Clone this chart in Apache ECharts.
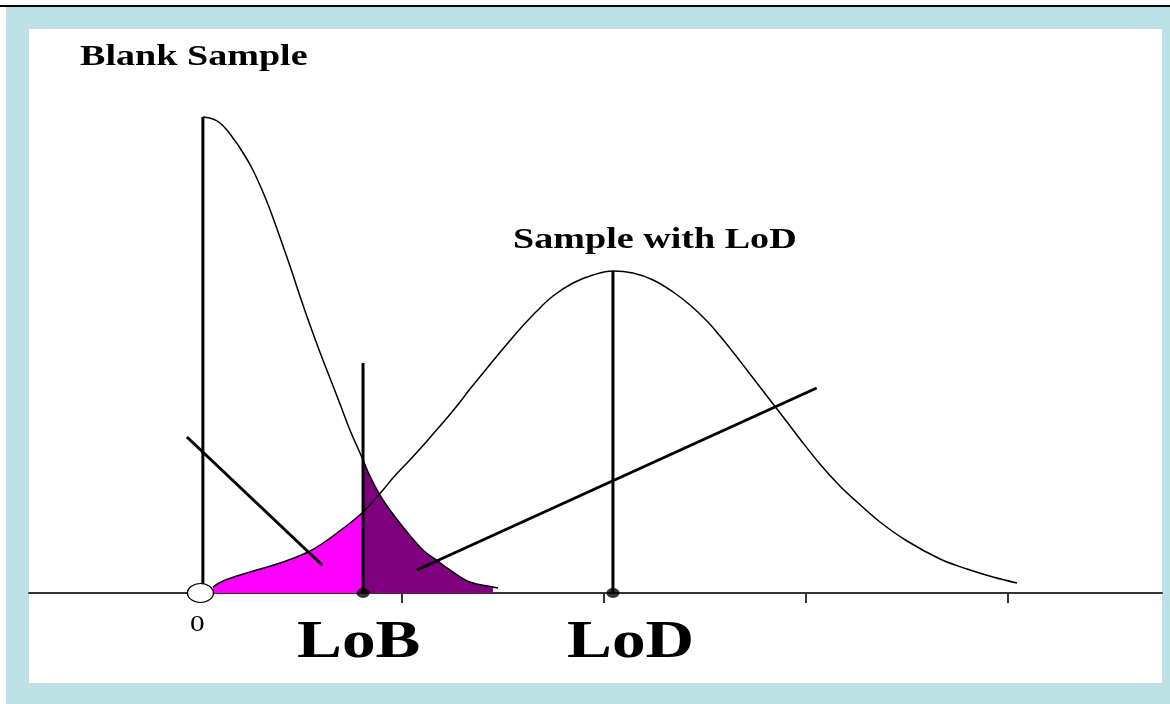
<!DOCTYPE html>
<html><head><meta charset="utf-8">
<script src="https://cdn.jsdelivr.net/npm/echarts@6/dist/echarts.min.js"></script>
<style>html,body{margin:0;padding:0;background:#fff}#c{width:1170px;height:704px}</style>
</head><body><div id="c"></div>
<script>
// Blank sample curve
const blankX = [0.012, 0.062, 0.097, 0.131, 0.161, 0.196, 0.255, 0.320, 0.369, 0.404, 0.444, 0.493, 0.543, 0.592, 0.642, 0.692, 0.741, 0.791, 0.806, 0.840, 0.905, 1.004, 1.103, 1.177, 1.237, 1.336, 1.450, 1.475];
const blankY = [4.76, 4.74, 4.70, 4.63, 4.55, 4.45, 4.25, 3.96, 3.70, 3.50, 3.27, 2.97, 2.68, 2.41, 2.15, 1.89, 1.63, 1.40, 1.33, 1.17, 0.93, 0.66, 0.43, 0.32, 0.23, 0.11, 0.06, 0.05];
// Sample with LoD curve
const lodX = [0.062, 0.112, 0.245, 0.394, 0.543, 0.677, 0.806, 0.905, 0.954, 1.024, 1.088, 1.153, 1.222, 1.287, 1.336, 1.401, 1.470, 1.520, 1.584, 1.668, 1.748, 1.847, 1.946, 2.045, 2.144, 2.244, 2.343, 2.427, 2.511, 2.576, 2.640, 2.709, 2.774, 2.839, 2.908, 2.972, 3.071, 3.170, 3.255, 3.369, 3.503, 3.667, 3.800, 3.929, 4.048];
const lodY = [0.06, 0.12, 0.21, 0.30, 0.42, 0.60, 0.81, 1.03, 1.15, 1.30, 1.44, 1.59, 1.75, 1.91, 2.04, 2.20, 2.37, 2.49, 2.64, 2.82, 2.97, 3.10, 3.18, 3.22, 3.20, 3.13, 3.01, 2.88, 2.72, 2.57, 2.41, 2.23, 2.06, 1.89, 1.71, 1.54, 1.29, 1.07, 0.91, 0.71, 0.52, 0.34, 0.24, 0.16, 0.10];
// Key positions (x in axis units)
const blankMean = 0.012, blankTop = 4.76;
const lobValue = 0.806, lobTop = 2.30;
const lodValue = 2.045, lodTop = 3.22;
const purpleEnd = 1.45;
// Pointer lines
const pointer1X = [-0.067, 0.603], pointer1Y = [1.56, 0.28];
const pointer2X = [1.073, 3.055], pointer2Y = [0.23, 2.05];
// Axis
const tickValues = [1, 2, 3, 4];
const tickLabels = ['0'];
const labelNames = ['Blank Sample', 'Sample with LoD', 'LoB', 'LoD'];

const zip = (xs, ys) => xs.map((x, i) => [x, ys[i]]);
const blankData = zip(blankX, blankY);
const lodData = zip(lodX, lodY);
const magentaData = lodData.filter(p => p[0] <= lobValue + 1e-9);
const purpleData = blankData.filter(p => p[0] >= lobValue - 1e-9 && p[0] <= purpleEnd + 1e-9);

const chart = echarts.init(document.getElementById('c'), null, {renderer: 'canvas'});
const black = '#000';
const lineSeries = (name, data, width, z, extra) => Object.assign({
  name, type: 'line', data, showSymbol: false, symbol: 'none', z,
  lineStyle: {color: black, width}, animation: false, silent: true
}, extra || {});
const smoothOpts = {smooth: 0.4};
const serif = '"Liberation Serif", "Times New Roman", serif';
const txt = (text, x, y, size, weight) => ({
  type: 'text', x, y, scaleX: 1.27, z: 10,
  style: {text, font: weight + ' ' + size + 'px ' + serif, fill: '#000', textAlign: 'left', textVerticalAlign: 'middle'}
});

chart.setOption({
  backgroundColor: '#fff',
  animation: false,
  grid: {left: 29, right: 8, top: 29, bottom: 111},
  xAxis: {
    type: 'value', min: -0.85, max: 4.767,
    axisLine: {show: true, onZero: false, lineStyle: {color: '#333', width: 2}},
    axisTick: {show: true, customValues: tickValues, length: 10, lineStyle: {color: '#333', width: 2}},
    axisLabel: {show: false}, splitLine: {show: false}
  },
  yAxis: {type: 'value', min: 0, max: 5.64, show: false, splitLine: {show: false}},
  graphic: {elements: [
    {type: 'rect', z: -10, shape: {x: 0, y: 5, width: 1170, height: 2}, style: {fill: '#000'}},
    {type: 'rect', z: -10, shape: {x: 6, y: 7, width: 1164, height: 697}, style: {fill: '#BCE0E3'}},
    {type: 'rect', z: -9, shape: {x: 29, y: 29, width: 1133, height: 654}, style: {fill: '#fff'}},
    txt(labelNames[0], 80, 57, 30, 'bold'),
    txt(labelNames[1], 513, 240, 30, 'bold'),
    txt(labelNames[2], 297, 643, 53, 'bold'),
    txt(labelNames[3], 567, 643, 53, 'bold'),
    txt(tickLabels[0], 190, 625, 23, 'normal')
  ]},
  series: [
    lineSeries('lodArea', magentaData, 0, 1, Object.assign({areaStyle: {color: '#FF00FF', opacity: 1}}, smoothOpts)),
    lineSeries('blankArea', purpleData, 0, 1, Object.assign({areaStyle: {color: '#7F007F', opacity: 1}}, smoothOpts)),
    lineSeries('Blank Sample', blankData, 1.5, 3, smoothOpts),
    lineSeries('Sample with LoD', lodData, 1.5, 3, smoothOpts),
    lineSeries('blankMean', [[blankMean, 0], [blankMean, blankTop]], 3, 4),
    lineSeries('LoB line', [[lobValue, 0], [lobValue, lobTop]], 3, 4),
    lineSeries('LoD line', [[lodValue, 0], [lodValue, lodTop]], 3, 4),
    lineSeries('pointer1', zip(pointer1X, pointer1Y), 3, 4),
    lineSeries('pointer2', zip(pointer2X, pointer2Y), 3, 4),
    {type: 'scatter', z: 6, silent: true, symbol: 'circle', symbolSize: [13, 10],
      itemStyle: {color: black}, data: [[lobValue, 0], [lodValue, 0]]},
    {type: 'scatter', z: 7, silent: true, symbol: 'circle', symbolSize: [26, 19],
      itemStyle: {color: '#fff', borderColor: black, borderWidth: 1.2, opacity: 1}, data: [[0, 0]]}
  ]
});
</script></body></html>
